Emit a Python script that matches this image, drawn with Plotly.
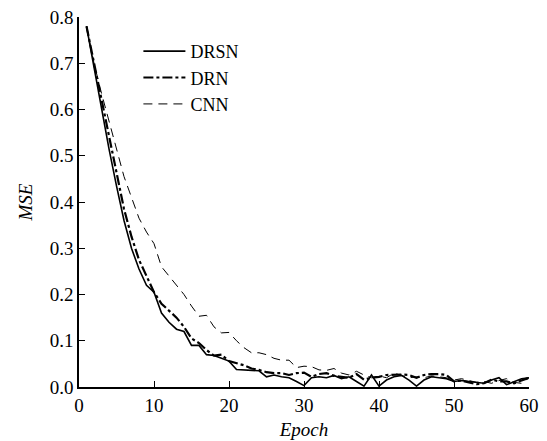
import plotly.graph_objects as go

epochs = list(range(1, 61))

drsn = [0.78, 0.69, 0.60, 0.515, 0.435, 0.36, 0.30, 0.255, 0.22, 0.205,
        0.16, 0.14, 0.125, 0.12, 0.09, 0.09, 0.07, 0.068, 0.062, 0.056,
        0.038, 0.037, 0.037, 0.035, 0.022, 0.026, 0.022, 0.02, 0.012, 0.003,
        0.02, 0.022, 0.02, 0.025, 0.018, 0.022, 0.012, 0.002, 0.026, 0.002,
        0.015, 0.022, 0.025, 0.015, 0.002, 0.015, 0.022, 0.02, 0.018, 0.012,
        0.014, 0.012, 0.01, 0.008, 0.015, 0.02, 0.005, 0.012, 0.018, 0.02]

drn = [0.78, 0.70, 0.62, 0.54, 0.46, 0.385, 0.325, 0.275, 0.24, 0.205,
       0.18, 0.165, 0.15, 0.13, 0.105, 0.095, 0.08, 0.068, 0.07, 0.056,
       0.052, 0.047, 0.04, 0.037, 0.032, 0.03, 0.03, 0.026, 0.03, 0.031,
       0.022, 0.028, 0.03, 0.024, 0.022, 0.02, 0.028, 0.016, 0.02, 0.022,
       0.026, 0.027, 0.027, 0.026, 0.02, 0.026, 0.028, 0.028, 0.026, 0.012,
       0.014, 0.01, 0.006, 0.008, 0.016, 0.012, 0.012, 0.008, 0.014, 0.02]

cnn = [0.78, 0.70, 0.635, 0.575, 0.515, 0.455, 0.41, 0.365, 0.335, 0.31,
       0.26, 0.24, 0.218, 0.2, 0.175, 0.153, 0.155, 0.13, 0.117, 0.118,
       0.1, 0.085, 0.074, 0.074, 0.07, 0.062, 0.058, 0.058, 0.042, 0.045,
       0.044, 0.037, 0.036, 0.04, 0.03, 0.026, 0.034, 0.026, 0.02, 0.024,
       0.02, 0.03, 0.025, 0.02, 0.022, 0.02, 0.024, 0.022, 0.02, 0.015,
       0.018, 0.014, 0.01, 0.012, 0.008, 0.014, 0.018, 0.01, 0.008, 0.02]

x_ticks = [0, 10, 20, 30, 40, 50, 60]
y_ticks = [0.0, 0.1, 0.2, 0.3, 0.4, 0.5, 0.6, 0.7, 0.8]

FONT = "Liberation Serif, Times New Roman, serif"

fig = go.Figure()
fig.add_trace(go.Scatter(x=epochs, y=drsn, mode="lines", name="DRSN",
                         line=dict(color="black", width=1.6, dash="solid")))
fig.add_trace(go.Scatter(x=epochs, y=drn, mode="lines", name="DRN",
                         line=dict(color="black", width=2.2, dash="10px,3px,3px,3px")))
fig.add_trace(go.Scatter(x=epochs, y=cnn, mode="lines", name="CNN",
                         line=dict(color="black", width=1, dash="9px,6px")))

# page body has an 8px default margin, so the figure is sized to fit the window
fig.update_layout(
    width=539, height=433,
    margin=dict(l=71, r=18, t=9, b=54, autoexpand=False),
    paper_bgcolor="white", plot_bgcolor="white",
    font=dict(family=FONT, size=19, color="black"),
    showlegend=True,
    legend=dict(x=0.132, y=0.957, xanchor="left", yanchor="top",
                bgcolor="rgba(0,0,0,0)", font=dict(size=18),
                itemwidth=42, tracegroupgap=0),
)
fig.update_xaxes(range=[0, 60], tickvals=x_ticks, ticks="inside", ticklen=6,
                 tickwidth=1.2, tickcolor="black", showline=True, linecolor="black",
                 linewidth=1.5, showgrid=False, zeroline=False, automargin=False,
                 ticklabeloverflow="allow",
                 title=dict(text="<i>Epoch</i>", standoff=8, font=dict(size=19)))
fig.update_yaxes(range=[0, 0.8], tickvals=y_ticks, tickformat=".1f", ticks="inside",
                 ticklen=6, tickwidth=1.2, tickcolor="black", showline=True,
                 linecolor="black", linewidth=1.5, showgrid=False, zeroline=False,
                 automargin=False, ticklabeloverflow="allow",
                 title=dict(text="<i>MSE</i>", standoff=12, font=dict(size=19)))

fig.write_html("out.html")
